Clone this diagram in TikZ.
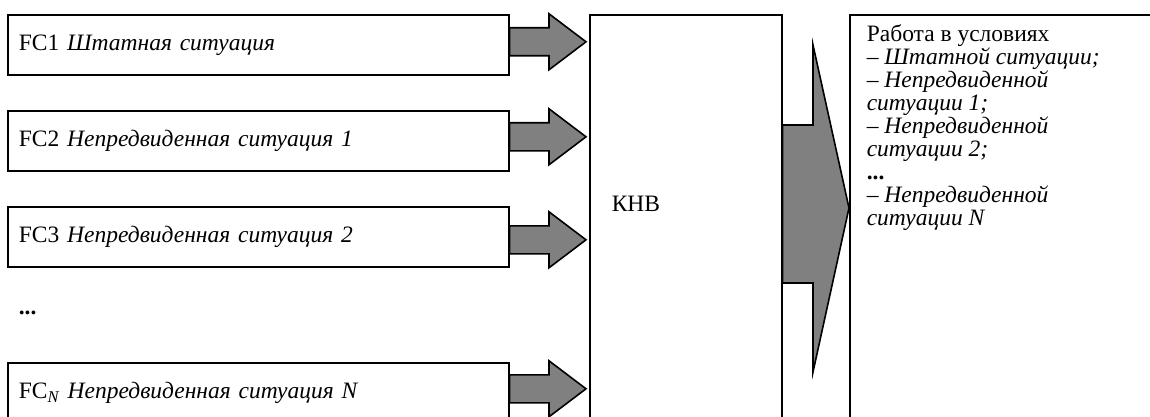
\documentclass[tikz,border=0pt]{standalone}
\usepackage{fontspec}
\setmainfont{Liberation Serif}
\usetikzlibrary{calc}
\definecolor{arrgray}{HTML}{808080}
\begin{document}
\begin{tikzpicture}[x=1pt,y=-1pt,
  line width=1.6pt,
  every node/.style={font=\fontsize{23.5}{23}\selectfont},
  fcbox/.style={draw, anchor=north west, minimum width=501pt, minimum height=60pt,
    text width=479pt, inner xsep=11pt, inner ysep=0pt, align=left},
  openbox/.style={draw, anchor=north west, inner sep=0pt},
  blockarrow/.style={draw, fill=arrgray, line join=miter},
  plain/.style={inner sep=0pt, anchor=west}]
\useasboundingbox (0,0) rectangle (1150,417);
\clip (0,0) rectangle (1150,417);

% input boxes
\node[fcbox] (b1) at (7,14)  {FC1 \textit{Штатная ситуация}};
\node[fcbox] (b2) at (7,110) {FC2 \textit{Непредвиденная ситуация 1}};
\node[fcbox] (b3) at (7,206) {FC3 \textit{Непредвиденная ситуация 2}};
\node[plain] (dots) at (18,313) {\textbf{...}};
\node[fcbox] (bn) at (7,362) {FC\textsubscript{\textit{N}} \textit{Непредвиденная ситуация N}};

% KNV box
\node[openbox, minimum width=192pt, minimum height=430pt] (knv) at (589,14) {};
\node[plain] (knvt) at (611,204) {КНВ};

% result box
\node[openbox, minimum width=400pt, minimum height=430pt] (res) at (849,14) {};
\node[anchor=north west, inner sep=0pt, align=left] (rest) at (866,23.5) {%
Работа в условиях\\
– \textit{Штатной ситуации;}\\
– \textit{Непредвиденной}\\
\textit{ситуации 1;}\\
– \textit{Непредвиденной}\\
\textit{ситуации 2;}\\
\textbf{...}\\
– \textit{Непредвиденной}\\
\textit{ситуации N}};

% small block arrows
\foreach \b/\d in {b1/-3, b2/-4, b3/3, bn/-4} {
  \coordinate (s) at ($(\b.east)+(0,\d)$);
  \coordinate (t) at ($(knv.west |- s)+(-3,0)$);
  \draw[blockarrow] ($(s)+(0,-14)$) -- ($(t)+(-37,-14)$) -- ($(t)+(-37,-28)$)
    -- (t) -- ($(t)+(-37,28)$) -- ($(t)+(-37,14)$) -- ($(s)+(0,14)$) -- cycle;
}

% big block arrow
\draw[blockarrow] (knv.east |- 0,125) -- (813,125) -- (813,45) -- (res.west |- 0,208)
  -- (813,372) -- (813,283) -- (knv.east |- 0,283) -- cycle;
\end{tikzpicture}
\end{document}
